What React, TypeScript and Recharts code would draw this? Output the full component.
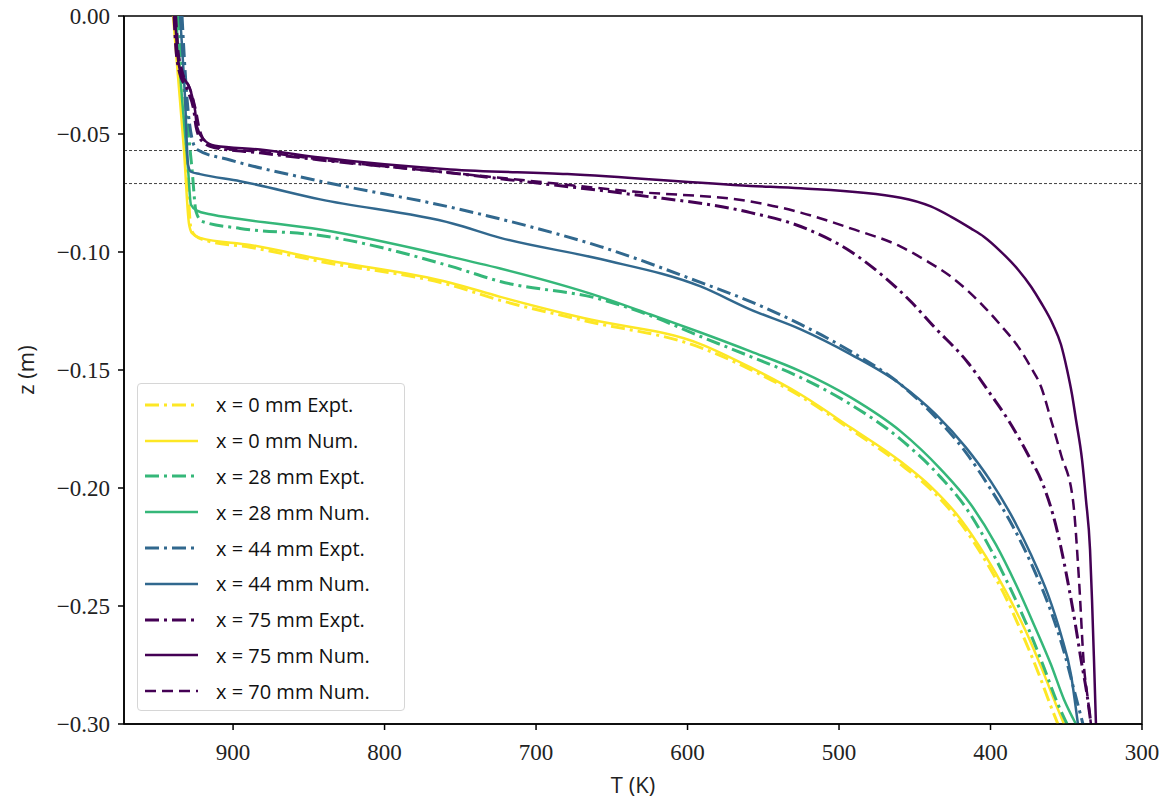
import React from 'react';
import {
  LineChart,
  Line,
  XAxis,
  YAxis,
  ReferenceLine,
  ReferenceArea,
  Legend,
} from 'recharts';

const tTicks = [900, 800, 700, 600, 500, 400, 300];
const zTicks = [0, -0.05, -0.1, -0.15, -0.2, -0.25, -0.3];
const interfaceLevels = [-0.057, -0.071];

// x = 0 mm
const t0Expt = [938.3, 935.0, 931.1, 927.8, 925.1, 918.5, 888.8, 842.5, 756.6, 723.6, 668.7, 591.4, 558.4, 525.3, 492.3, 459.3, 439.4, 419.6, 403.1, 389.9, 378.6, 368.0, 360.1, 355.5];
const z0Expt = [0, -0.026, -0.057, -0.09, -0.093, -0.095, -0.098, -0.104, -0.114, -0.1205, -0.129, -0.1405, -0.1498, -0.1612, -0.1752, -0.19, -0.2006, -0.215, -0.2311, -0.2464, -0.2625, -0.279, -0.2926, -0.3];
const t0Num = [939.6, 936.3, 932.4, 929.1, 927.1, 921.8, 888.8, 842.5, 756.6, 723.6, 668.7, 591.4, 558.4, 525.3, 492.3, 459.3, 439.4, 419.6, 403.1, 389.9, 376.6, 365.4, 356.8, 351.5];
const z0Num = [0, -0.026, -0.057, -0.088, -0.092, -0.094, -0.097, -0.103, -0.113, -0.119, -0.128, -0.139, -0.1489, -0.1604, -0.1744, -0.1888, -0.1994, -0.2133, -0.229, -0.2438, -0.2608, -0.2777, -0.2917, -0.3];

// x = 28 mm
const t28Expt = [936.3, 931.7, 927.1, 924.4, 920.5, 895.4, 842.5, 756.6, 723.6, 657.5, 624.4, 591.4, 558.4, 525.3, 492.3, 459.3, 432.8, 416.3, 399.8, 386.6, 374.7, 364.7, 356.2, 349.5];
const z28Expt = [0, -0.035, -0.065, -0.083, -0.087, -0.09, -0.093, -0.106, -0.1125, -0.12, -0.127, -0.1358, -0.1443, -0.1532, -0.1646, -0.1794, -0.1955, -0.2083, -0.2261, -0.243, -0.26, -0.2761, -0.2905, -0.3];
const t28Num = [937.7, 933.7, 929.7, 927.8, 923.8, 915.2, 895.4, 842.5, 756.6, 723.6, 657.5, 624.4, 591.4, 558.4, 525.3, 492.3, 459.3, 432.8, 413.0, 396.5, 383.2, 371.4, 360.1, 351.5, 343.6];
const z28Num = [0, -0.035, -0.065, -0.08, -0.0825, -0.084, -0.086, -0.0905, -0.102, -0.107, -0.119, -0.1265, -0.1341, -0.1421, -0.1506, -0.1616, -0.176, -0.1921, -0.207, -0.2239, -0.2409, -0.2578, -0.2748, -0.2896, -0.3];

// x = 44 mm
const t44Expt = [933.7, 930.4, 927.1, 923.8, 902.0, 842.5, 756.6, 701.8, 657.5, 591.4, 558.4, 525.3, 492.3, 459.3, 436.1, 416.3, 399.8, 385.2, 371.4, 360.1, 351.5, 344.9, 339.0];
const z44Expt = [0, -0.035, -0.052, -0.0566, -0.061, -0.07, -0.081, -0.0896, -0.0977, -0.1129, -0.121, -0.1307, -0.1421, -0.1561, -0.1701, -0.1849, -0.2006, -0.2163, -0.2345, -0.2523, -0.2693, -0.2854, -0.3];
const t44Num = [935.0, 931.7, 929.7, 927.8, 921.8, 895.4, 842.5, 754.6, 723.6, 657.5, 591.4, 558.4, 525.3, 492.3, 459.3, 436.1, 416.3, 399.8, 386.6, 373.3, 362.1, 353.5, 346.9, 342.3];
const z44Num = [0, -0.035, -0.063, -0.066, -0.067, -0.07, -0.0777, -0.088, -0.094, -0.103, -0.1146, -0.1244, -0.1328, -0.1434, -0.1561, -0.1688, -0.1828, -0.1972, -0.2112, -0.2282, -0.2451, -0.2621, -0.279, -0.3];

// x = 75 mm
const t75Expt = [939.0, 937.7, 935.7, 929.7, 925.8, 924.4, 920.5, 912.6, 882.2, 842.5, 763.2, 701.8, 635.7, 558.4, 525.3, 492.3, 470.5, 452.6, 437.4, 415.0, 399.8, 388.5, 375.3, 365.4, 358.8, 353.5, 348.9, 344.3, 340.3, 336.3, 333.7];
const z75Expt = [0, -0.014, -0.023, -0.032, -0.0405, -0.047, -0.053, -0.0557, -0.058, -0.061, -0.066, -0.0706, -0.0757, -0.0833, -0.0892, -0.0998, -0.1104, -0.121, -0.1316, -0.1468, -0.1604, -0.171, -0.1858, -0.1985, -0.2112, -0.2252, -0.24, -0.2565, -0.2726, -0.2875, -0.3];
const t75Num = [938.3, 937.0, 935.0, 928.4, 925.1, 923.8, 919.8, 911.9, 882.2, 842.5, 756.6, 679.3, 558.4, 525.3, 459.3, 439.4, 426.2, 413.0, 404.4, 393.2, 381.9, 373.3, 366.7, 358.8, 353.5, 349.5, 346.2, 343.6, 339.6, 337.0, 334.3, 333.0, 331.7, 330.4];
const z75Num = [0, -0.014, -0.023, -0.031, -0.04, -0.047, -0.052, -0.055, -0.0566, -0.06, -0.065, -0.067, -0.072, -0.073, -0.077, -0.0807, -0.085, -0.09, -0.0935, -0.0998, -0.1074, -0.1146, -0.1214, -0.1307, -0.1392, -0.1498, -0.1604, -0.171, -0.1879, -0.2049, -0.2261, -0.2473, -0.2727, -0.3];

// x = 70 mm
const t70Num = [937.7, 936.3, 933.7, 927.8, 924.4, 922.5, 918.5, 909.9, 882.2, 842.5, 763.2, 701.8, 635.7, 558.4, 525.3, 492.3, 459.3, 442.7, 426.2, 404.4, 393.2, 381.9, 373.3, 366.7, 360.1, 353.5, 345.6, 341.6, 338.3, 335.7, 333.7];
const z70Num = [0, -0.014, -0.023, -0.032, -0.0405, -0.047, -0.053, -0.0557, -0.0575, -0.0608, -0.066, -0.07, -0.0744, -0.0786, -0.0833, -0.09, -0.0977, -0.1036, -0.1104, -0.1231, -0.1311, -0.14, -0.1489, -0.157, -0.171, -0.1858, -0.205, -0.2388, -0.2756, -0.2896, -0.3];

const YELLOW = '#fde725';
const GREEN = '#35b779';
const BLUE = '#31688e';
const PURPLE = '#440154';

const DASHDOT = '14 5 3 5';
const DASHED = '11 6';

const zip = (t: number[], z: number[]) => t.map((v, i) => ({ t: v, z: z[i] }));

const series = [
  { key: 'e0', label: 'x = 0 mm Expt.', color: YELLOW, dash: DASHDOT, w: 3, data: zip(t0Expt, z0Expt) },
  { key: 'n0', label: 'x = 0 mm Num.', color: YELLOW, dash: undefined, w: 2.5, data: zip(t0Num, z0Num) },
  { key: 'e28', label: 'x = 28 mm Expt.', color: GREEN, dash: DASHDOT, w: 3, data: zip(t28Expt, z28Expt) },
  { key: 'n28', label: 'x = 28 mm Num.', color: GREEN, dash: undefined, w: 2.5, data: zip(t28Num, z28Num) },
  { key: 'e44', label: 'x = 44 mm Expt.', color: BLUE, dash: DASHDOT, w: 3, data: zip(t44Expt, z44Expt) },
  { key: 'n44', label: 'x = 44 mm Num.', color: BLUE, dash: undefined, w: 2.5, data: zip(t44Num, z44Num) },
  { key: 'e75', label: 'x = 75 mm Expt.', color: PURPLE, dash: DASHDOT, w: 3, data: zip(t75Expt, z75Expt) },
  { key: 'n75', label: 'x = 75 mm Num.', color: PURPLE, dash: undefined, w: 2.5, data: zip(t75Num, z75Num) },
  { key: 'n70', label: 'x = 70 mm Num.', color: PURPLE, dash: DASHED, w: 2.5, data: zip(t70Num, z70Num) },
];

const SANS = 'Open Sans, DejaVu Sans, sans-serif';

// tick labels are serif in the original (matplotlib usetex)
const fontCss = `
#root svg text.tick-serif { font-family: "Liberation Serif", "Times New Roman", serif !important; font-size: 23px !important; }
#root svg text.axis-sans { font-family: "Open Sans", sans-serif !important; }
`;

function fmtZ(v: number): string {
  if (v === 0) return '0.00';
  return '\u2212' + Math.abs(v).toFixed(2);
}

function XTick(props: any) {
  const { x, y, payload } = props;
  return (
    <text className="tick-serif" x={x} y={y} dy="0.71em" textAnchor="middle" fill="#222">
      {payload.value}
    </text>
  );
}

function YTick(props: any) {
  const { x, y, payload } = props;
  return (
    <text className="tick-serif" x={x} y={y} dy="0.35em" textAnchor="end" fill="#222">
      {fmtZ(payload.value)}
    </text>
  );
}

function LegendBox() {
  return (
    <div
      style={{
        width: 268,
        height: 328,
        border: '1px solid #d6d6d6',
        borderRadius: 4,
        background: 'rgba(255,255,255,0.85)',
        paddingTop: 3,
        boxSizing: 'border-box',
      }}
    >
      {series.map((s) => (
        <div key={s.key} style={{ height: 35.8, display: 'flex', alignItems: 'center' }}>
          <svg width={60} height={10} style={{ marginLeft: 7, flex: 'none' }}>
            <line x1={0} y1={5} x2={53} y2={5} stroke={s.color} strokeWidth={s.w} strokeDasharray={s.dash} />
          </svg>
          <span style={{ fontFamily: SANS, fontSize: 20, color: '#111', marginLeft: 11, whiteSpace: 'nowrap' }}>
            {s.label}
          </span>
        </div>
      ))}
    </div>
  );
}

export default function App() {
  return (
    <div style={{ position: 'absolute', left: 0, top: 0, width: 1169, height: 799, background: '#fff' }}>
      <style>{fontCss}</style>
      <LineChart width={1169} height={799} margin={{ top: 16, right: 27, bottom: 0, left: 0 }}>
        <XAxis
          dataKey="t"
          type="number"
          domain={[300, 972]}
          reversed
          allowDataOverflow
          ticks={tTicks}
          height={75}
          tickSize={6}
          tickMargin={14}
          stroke="#000"
          strokeWidth={1.5}
          tick={<XTick />}
          label={{ value: 'T (K)', position: 'insideBottom', offset: 6, className: 'axis-sans', style: { fontFamily: SANS, fontSize: 22, fill: '#222' } }}
        />
        <YAxis
          dataKey="z"
          type="number"
          domain={[-0.3, 0]}
          allowDataOverflow
          ticks={zTicks}
          width={124}
          tickSize={6}
          tickMargin={8}
          stroke="#000"
          strokeWidth={1.5}
          tick={<YTick />}
          label={{ value: 'z (m)', angle: -90, position: 'insideLeft', offset: 26, className: 'axis-sans', style: { fontFamily: SANS, fontSize: 22, fill: '#222', textAnchor: 'middle' } }}
        />
        <ReferenceArea x1={300} x2={972} y1={-0.3} y2={0} fill="none" stroke="#000" strokeWidth={1.5} ifOverflow="visible" />
        {interfaceLevels.map((lv) => (
          <ReferenceLine key={lv} y={lv} stroke="#444" strokeWidth={1} strokeDasharray="3 2" />
        ))}
        {series.map((s) => (
          <Line
            key={s.key}
            data={s.data}
            dataKey="z"
            type="monotone"
            stroke={s.color}
            strokeWidth={s.w}
            strokeDasharray={s.dash}
            dot={false}
            activeDot={false}
            isAnimationActive={false}
            legendType="none"
          />
        ))}
        <Legend
          layout="vertical"
          align="center"
          verticalAlign="middle"
          content={() => <LegendBox />}
          wrapperStyle={{ left: 137, top: 383, width: 268, height: 328 }}
        />
      </LineChart>
    </div>
  );
}
